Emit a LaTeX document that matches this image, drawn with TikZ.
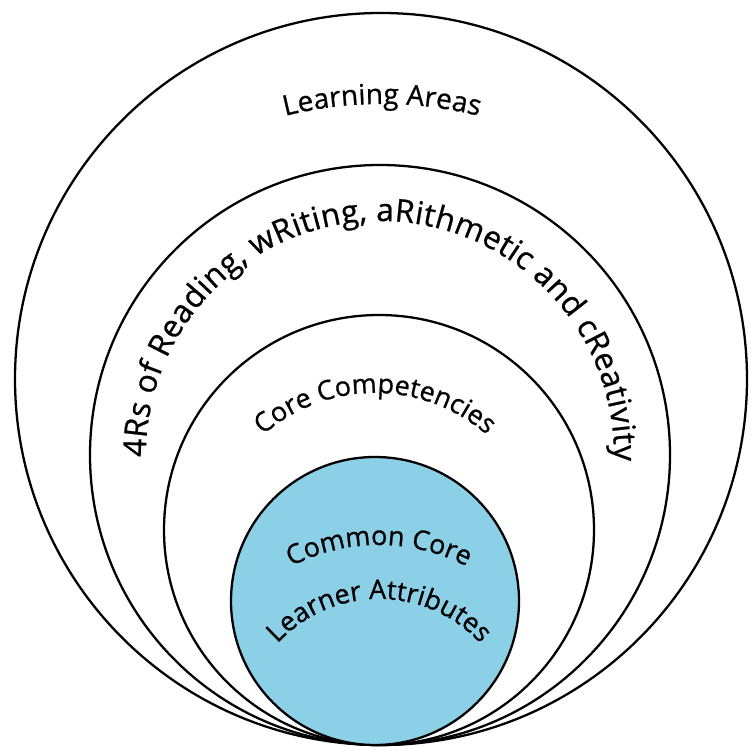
\documentclass[tikz,border=0pt]{standalone}
\usepackage{fontspec}
\setmainfont{Open Sans}
\newfontfamily\ringfam[FakeBold=0.7]{Open Sans}
\usetikzlibrary{decorations.text}
\definecolor{attrblue}{RGB}{140,208,232}
\newcommand\ringfont{\ringfam\fontsize{15.3}{18}\selectfont}
\newcommand\bigringfont{\ringfam\fontsize{18}{21}\selectfont}
\newcommand\areasfont{\ringfam\fontsize{16}{19}\selectfont}
\tikzstyle{ring}=[draw, line width=1.3pt]
\tikzstyle{ringtext}=[decorate, decoration={text along path, text align=center}]

\begin{document}
\begin{tikzpicture}[x=0.02cm, y=0.02cm]
\useasboundingbox (0,0) rectangle (751,747);
% Centres
    \coordinate (touch) at (379,0);
    \coordinate (areas) at (381,368);
    \coordinate (fourr) at (380,292);
    \coordinate (comp) at (379,217);
    \coordinate (attr) at (375,146);
% Rings
    \draw[ring] (areas) circle(366);
    \draw[ring] (fourr) circle(290);
    \draw[ring] (comp) circle(215);
    \draw[ring, fill=attrblue] (attr) circle(144);
% Labels
    \path[ringtext, decoration={text={|\areasfont|Learning Areas}}]
        (382,243) ++(110:400) arc[start angle=110, end angle=70, radius=400];
    \path[ringtext, decoration={text={|\bigringfont|4Rs of Reading{,} wRiting{,} aRithmetic and cReativity}, text align=fit to path}]
        (fourr) ++(180.5:234) arc[start angle=180.5, end angle=-1.5, radius=234];
    \path[ringtext, decoration={text={|\ringfont|Core Competencies}}]
        (375,184) ++(140:170) arc[start angle=140, end angle=40, radius=170];
    \path[ringtext, decoration={text={|\ringfont|Common Core}}]
        (379,12) ++(125:190) arc[start angle=125, end angle=55, radius=190];
    \path[ringtext, decoration={text={|\ringfont|Learner Attributes}}]
        (379,10) ++(145:138) arc[start angle=145, end angle=35, radius=138];
\end{tikzpicture}
\end{document}
